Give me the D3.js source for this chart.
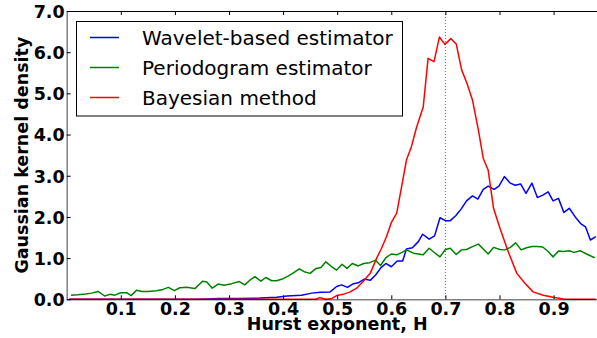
<!DOCTYPE html>
<html>
<head>
<meta charset="utf-8">
<script src="https://cdn.jsdelivr.net/npm/d3@7"></script>
<style>
  body { margin: 0; background: #fff; }
  svg { display: block; font-family: "DejaVu Sans", sans-serif; }
</style>
</head>
<body>
<svg id="chart" width="597" height="338"></svg>
<script>
// values
const waveletH = [0.005, 0.24, 0.26, 0.28, 0.30, 0.32, 0.357, 0.388, 0.407, 0.434, 0.453, 0.469, 0.487, 0.499, 0.508, 0.519, 0.53, 0.539, 0.55, 0.561, 0.571, 0.581, 0.59, 0.60, 0.611, 0.621, 0.628, 0.639, 0.65, 0.658, 0.67, 0.68, 0.69, 0.70, 0.709, 0.719, 0.729, 0.739, 0.75, 0.76, 0.77, 0.779, 0.79, 0.799, 0.809, 0.82, 0.829, 0.839, 0.849, 0.86, 0.87, 0.88, 0.89, 0.899, 0.909, 0.919, 0.929, 0.94, 0.95, 0.959, 0.968, 0.978];
const waveletDensity = [0, 0, 0.01, 0.02, 0.02, 0.02, 0.03, 0.05, 0.08, 0.10, 0.15, 0.17, 0.18, 0.31, 0.35, 0.29, 0.38, 0.40, 0.49, 0.46, 0.59, 0.77, 0.87, 0.79, 0.93, 0.93, 1.22, 1.25, 1.40, 1.58, 1.46, 1.54, 1.98, 1.91, 1.91, 2.03, 2.19, 2.39, 2.51, 2.43, 2.67, 2.75, 2.67, 2.75, 2.98, 2.82, 2.77, 2.80, 2.57, 2.82, 2.47, 2.53, 2.61, 2.39, 2.45, 2.11, 2.21, 2.00, 1.84, 1.76, 1.44, 1.52];

const periodH = [0.008, 0.02, 0.035, 0.046, 0.058, 0.07, 0.08, 0.089, 0.10, 0.111, 0.119, 0.129, 0.139, 0.15, 0.166, 0.178, 0.188, 0.199, 0.209, 0.222, 0.237, 0.251, 0.259, 0.269, 0.28, 0.291, 0.305, 0.319, 0.329, 0.339, 0.348, 0.359, 0.368, 0.379, 0.388, 0.40, 0.41, 0.419, 0.43, 0.439, 0.45, 0.461, 0.47, 0.479, 0.49, 0.499, 0.509, 0.518, 0.528, 0.539, 0.549, 0.56, 0.571, 0.58, 0.59, 0.60, 0.61, 0.62, 0.628, 0.641, 0.65, 0.659, 0.67, 0.68, 0.69, 0.70, 0.709, 0.72, 0.73, 0.739, 0.75, 0.761, 0.77, 0.779, 0.789, 0.801, 0.81, 0.82, 0.83, 0.84, 0.85, 0.86, 0.87, 0.88, 0.89, 0.899, 0.909, 0.918, 0.929, 0.938, 0.949, 0.961, 0.976];
const periodDensity = [0.10, 0.11, 0.13, 0.15, 0.19, 0.08, 0.12, 0.10, 0.16, 0.16, 0.09, 0.22, 0.19, 0.19, 0.21, 0.24, 0.29, 0.21, 0.28, 0.29, 0.26, 0.44, 0.42, 0.27, 0.37, 0.34, 0.38, 0.43, 0.35, 0.47, 0.55, 0.44, 0.53, 0.45, 0.45, 0.50, 0.57, 0.64, 0.74, 0.67, 0.63, 0.75, 0.77, 0.91, 0.79, 0.71, 0.85, 0.75, 0.87, 0.81, 0.87, 0.89, 0.95, 0.82, 1.01, 1.10, 1.08, 1.14, 1.20, 1.12, 1.10, 1.08, 1.24, 1.13, 1.03, 1.21, 1.24, 1.09, 1.20, 1.21, 1.28, 1.34, 1.22, 1.10, 1.26, 1.21, 1.20, 1.26, 1.37, 1.20, 1.25, 1.28, 1.28, 1.27, 1.16, 1.03, 1.17, 1.16, 1.18, 1.14, 1.18, 1.10, 1.01];

const bayesH = [0.005, 0.46, 0.468, 0.48, 0.49, 0.499, 0.511, 0.524, 0.536, 0.548, 0.561, 0.573, 0.582, 0.591, 0.60, 0.61, 0.619, 0.628, 0.637, 0.647, 0.659, 0.668, 0.679, 0.689, 0.699, 0.71, 0.72, 0.73, 0.74, 0.75, 0.761, 0.77, 0.779, 0.789, 0.801, 0.816, 0.832, 0.847, 0.862, 0.881, 0.899, 0.918, 0.935, 0.978];
const bayesDensity = [0, 0, 0.04, 0.0, 0.02, 0.09, 0.12, 0.18, 0.27, 0.43, 0.63, 1.00, 1.24, 1.52, 1.86, 2.09, 2.73, 3.38, 3.70, 4.19, 4.67, 5.85, 5.77, 6.37, 6.19, 6.33, 6.20, 5.57, 5.24, 4.84, 4.11, 3.42, 3.14, 2.21, 1.72, 1.16, 0.63, 0.39, 0.18, 0.10, 0.05, 0.01, 0, 0];

const seriesNames = ['Wavelet-based estimator', 'Periodogram estimator', 'Bayesian method'];
const seriesColors = ['#0000ff', '#008000', '#ff0000'];
const xTicks = [0.1, 0.2, 0.3, 0.4, 0.5, 0.6, 0.7, 0.8, 0.9];
const yTicks = [0, 1, 2, 3, 4, 5, 6, 7];
const markH = 0.7;

const svg = d3.select('#chart');
const plotLeft = 66.7, plotRight = 607.7, plotTop = 11, plotBottom = 299.3;
const labelSize = '17.5px';

const x = d3.scaleLinear().domain([0, 1]).range([plotLeft, plotRight]);
const y = d3.scaleLinear().domain([0, 7]).range([plotBottom, plotTop]);

const series = [
  { h: waveletH, d: waveletDensity },
  { h: periodH, d: periodDensity },
  { h: bayesH, d: bayesDensity }
];

// dotted marker at H = 0.7
svg.append('line')
  .attr('x1', x(markH)).attr('x2', x(markH))
  .attr('y1', plotTop).attr('y2', plotBottom)
  .attr('stroke', '#666')
  .attr('stroke-width', 1)
  .attr('stroke-dasharray', '1,2');

let line = d3.line().x(p => x(p[0])).y(p => y(p[1]));

series.forEach((s, i) => {
  svg.append('path')
    .datum(d3.zip(s.h, s.d))
    .attr('d', line)
    .attr('fill', 'none')
    .attr('stroke', seriesColors[i])
    .attr('stroke-width', 1.5)
    .attr('stroke-linejoin', 'round');
});

// axes, ticks drawn inward like the original
let xAxisB = d3.axisBottom(x).tickValues(xTicks).tickSizeInner(-4).tickSizeOuter(0).tickPadding(3).tickFormat(d3.format('.1f'));
let xAxisT = d3.axisTop(x).tickValues(xTicks).tickSizeInner(-4).tickSizeOuter(0).tickFormat('');
let yAxisL = d3.axisLeft(y).tickValues(yTicks).tickSizeInner(-4).tickSizeOuter(0).tickPadding(2).tickFormat(d3.format('.1f'));

let gx = svg.append('g').attr('transform', `translate(0, ${plotBottom})`).call(xAxisB);
let gt = svg.append('g').attr('transform', `translate(0, ${plotTop})`).call(xAxisT);
let gy = svg.append('g').attr('transform', `translate(${plotLeft}, 0)`).call(yAxisL);

[gx, gt, gy].forEach(g => {
  g.selectAll('.tick line').attr('stroke', '#000');
  g.selectAll('text')
    .attr('fill', '#000')
    .style('font-size', labelSize)
    .style('font-weight', 'bold')
    .style('font-family', '"DejaVu Sans", sans-serif');
});
gx.select('.domain').attr('stroke', '#000').attr('stroke-opacity', 0.5).attr('stroke-width', 1.5);
gy.select('.domain').attr('stroke', '#000').attr('stroke-opacity', 0.5).attr('stroke-width', 1.5);
gt.select('.domain').attr('stroke', '#000').attr('stroke-width', 1);
gy.selectAll('.tick text').attr('dy', '0.36em');

// axis titles
svg.append('text')
  .attr('x', (plotLeft + plotRight) / 2).attr('y', 330)
  .attr('text-anchor', 'middle')
  .style('font-size', labelSize).style('font-weight', 'bold')
  .text('Hurst exponent, H');

svg.append('text')
  .attr('transform', `translate(28, ${(plotTop + plotBottom) / 2}) rotate(-90)`)
  .attr('text-anchor', 'middle')
  .style('font-size', labelSize).style('font-weight', 'bold')
  .text('Gaussian kernel density');

// legend
let legend = svg.append('g');
legend.append('rect')
  .attr('x', 76.5).attr('y', 21.5)
  .attr('width', 326).attr('height', 94.5)
  .attr('fill', '#fff').attr('stroke', '#000').attr('stroke-width', 1);

seriesNames.forEach((name, i) => {
  let ly = 37.5 + i * 30;
  legend.append('line')
    .attr('x1', 90).attr('x2', 119)
    .attr('y1', ly).attr('y2', ly)
    .attr('stroke', seriesColors[i]).attr('stroke-width', 1.5);
  legend.append('text')
    .attr('x', 142).attr('y', ly + 7.3)
    .style('font-size', '20px')
    .text(name);
});
</script>
</body>
</html>
